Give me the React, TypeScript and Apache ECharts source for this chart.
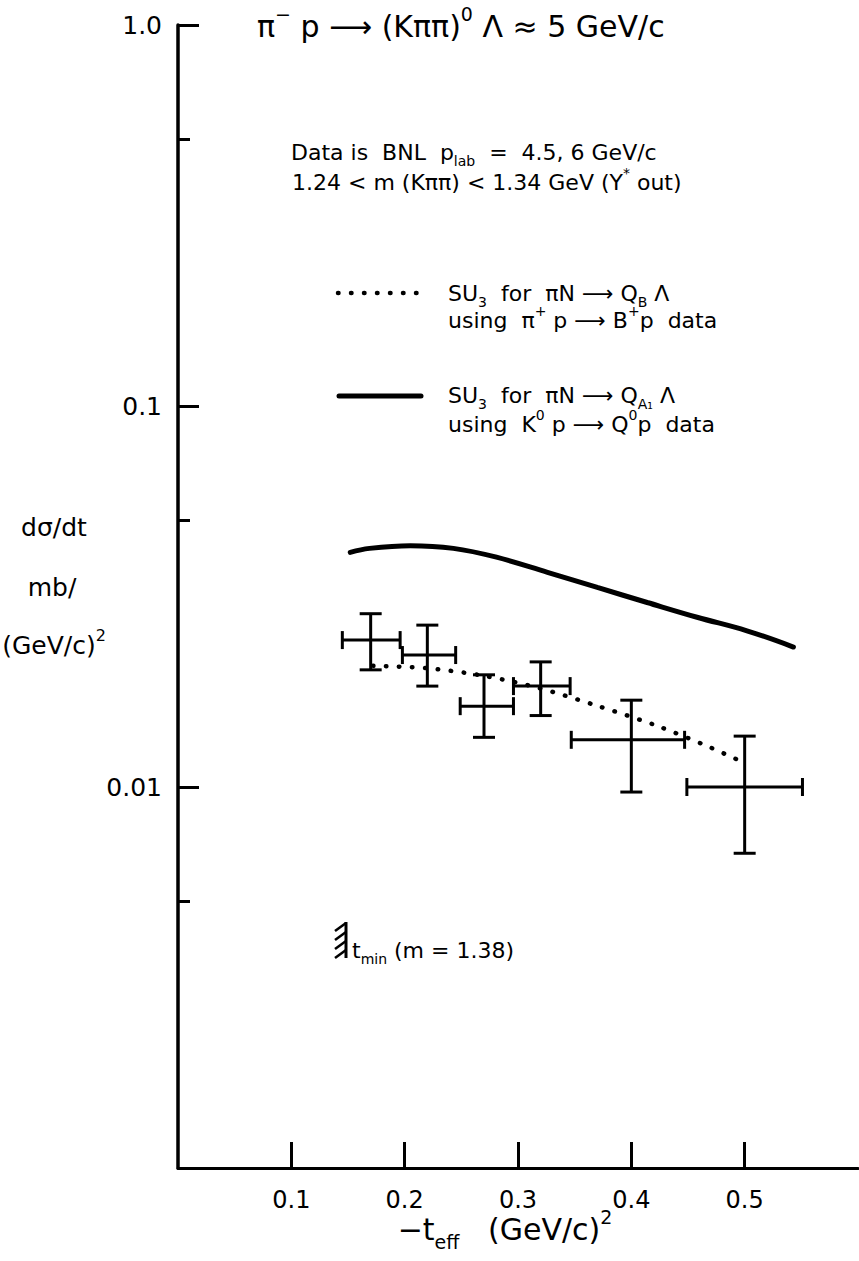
import React, { useEffect, useRef } from 'react';
import * as echarts from 'echarts';

// Axis ticks
const yTickMajor = [1, 0.1, 0.01];
const yTickMinor = [0.5, 0.05, 0.005];
const xTicks = [0.1, 0.2, 0.3, 0.4, 0.5];

// Measured data points (BNL) with x- and y-error ranges
const dataX = [0.17, 0.22, 0.27, 0.32, 0.40, 0.50];
const dataXLow = [0.145, 0.198, 0.249, 0.296, 0.347, 0.449];
const dataXHigh = [0.196, 0.245, 0.296, 0.346, 0.447, 0.551];
const dataY = [0.0243, 0.0222, 0.0163, 0.0184, 0.0133, 0.0100];
const dataYLow = [0.0203, 0.0184, 0.0135, 0.0154, 0.0097, 0.0067];
const dataYHigh = [0.0285, 0.0266, 0.0197, 0.0213, 0.0169, 0.0136];

// SU3 prediction for Q_A1 (solid)
const solidX = [0.152, 0.169, 0.205, 0.243, 0.281, 0.326, 0.370, 0.414, 0.458, 0.502, 0.543];
const solidY = [0.0413, 0.0423, 0.0430, 0.0423, 0.0401, 0.0366, 0.0334, 0.0305, 0.0279, 0.0257, 0.0233];

// SU3 prediction for Q_B (dotted)
const dottedX = [0.172, 0.220, 0.269, 0.318, 0.371, 0.422, 0.467, 0.499];
const dottedY = [0.0208, 0.0205, 0.0196, 0.0182, 0.0163, 0.0145, 0.0128, 0.0116];

const FONT = 'DejaVu Sans';

function rich(size: number) {
  const s = Math.round(size * 0.62);
  return {
    sub: { fontSize: s, fontFamily: FONT, lineHeight: s, verticalAlign: 'bottom', fill: '#000', color: '#000' },
    sup: { fontSize: s, fontFamily: FONT, lineHeight: s, verticalAlign: 'top', fill: '#000', color: '#000' },
  };
}

function txt(text: string, x: number, y: number, size: number, align = 'left') {
  return {
    type: 'text',
    x,
    y,
    style: {
      text,
      fontSize: size,
      fontFamily: FONT,
      fill: '#000',
      align,
      verticalAlign: 'middle',
      lineHeight: Math.round(size * 1.45),
      rich: rich(size),
    },
  };
}

export default function App() {
  const ref = useRef<HTMLDivElement>(null);
  useEffect(() => {
    document.body.style.margin = '0';
    const chart = echarts.init(ref.current!, null, { renderer: 'svg' });
    const errData = dataX.map((x, i) => [x, dataY[i], dataXLow[i], dataXHigh[i], dataYLow[i], dataYHigh[i]]);
    const lineStyleBlack = { stroke: '#000', lineWidth: 3, fill: 'none' };
    const hatch: any[] = [
      { type: 'line', shape: { x1: 346, y1: 922, x2: 346, y2: 958 }, style: { stroke: '#000', lineWidth: 3 } },
    ];
    for (let k = 0; k < 4; k++) {
      hatch.push({
        type: 'line',
        shape: { x1: 346, y1: 923 + k * 9, x2: 335, y2: 931 + k * 9 },
        style: { stroke: '#000', lineWidth: 2.5 },
      });
    }
    const yCommon = {
      type: 'log',
      logBase: 10,
      min: 0.001,
      max: 1,
      position: 'left',
      offset: 0,
      splitLine: { show: false },
    };
    chart.setOption({
      animation: false,
      backgroundColor: '#fff',
      grid: { left: 178, top: 25, width: 680, height: 1143, containLabel: false },
      xAxis: {
        type: 'value',
        min: 0,
        max: 0.6,
        axisLine: { show: true, lineStyle: { color: '#000', width: 3 } },
        axisTick: { show: true, inside: true, length: 26, customValues: xTicks, lineStyle: { color: '#000', width: 3 } },
        axisLabel: {
          customValues: xTicks,
          margin: 20,
          color: '#000',
          fontSize: 24,
          fontFamily: FONT,
          formatter: (v: number) => v.toFixed(1),
        },
        splitLine: { show: false },
      },
      yAxis: [
        {
          ...yCommon,
          axisLine: { show: true, lineStyle: { color: '#000', width: 3.5 } },
          axisTick: { show: true, inside: true, length: 21, customValues: yTickMajor, lineStyle: { color: '#000', width: 3 } },
          axisLabel: {
            customValues: yTickMajor,
            margin: 16,
            color: '#000',
            fontSize: 25,
            fontFamily: FONT,
            formatter: (v: number) => (v >= 1 ? '1.0' : String(Number(v.toPrecision(3)))),
          },
        },
        {
          ...yCommon,
          axisLine: { show: false },
          axisTick: { show: true, inside: true, length: 12, customValues: yTickMinor, lineStyle: { color: '#000', width: 3 } },
          axisLabel: { show: false },
        },
      ],
      series: [
        {
          type: 'line',
          data: solidX.map((x, i) => [x, solidY[i]]),
          smooth: 0.4,
          showSymbol: false,
          lineStyle: { color: '#000', width: 5, cap: 'round' },
          z: 3,
        },
        {
          type: 'line',
          data: dottedX.map((x, i) => [x, dottedY[i]]),
          smooth: 0.3,
          showSymbol: false,
          lineStyle: { color: '#000', width: 4.5, type: [0.5, 12.5], cap: 'round' },
          z: 3,
        },
        {
          type: 'custom',
          data: errData,
          encode: { x: [0, 2, 3], y: [1, 4, 5] },
          z: 4,
          renderItem: (params: any, api: any) => {
            const x = api.value(0);
            const y = api.value(1);
            const c = api.coord([x, y]);
            const l = api.coord([api.value(2), y]);
            const r = api.coord([api.value(3), y]);
            const b = api.coord([x, api.value(4)]);
            const t = api.coord([x, api.value(5)]);
            const cap = 9;
            const cw = 11;
            return {
              type: 'group',
              children: [
                { type: 'line', shape: { x1: l[0], y1: c[1], x2: r[0], y2: c[1] }, style: lineStyleBlack },
                { type: 'line', shape: { x1: c[0], y1: t[1], x2: c[0], y2: b[1] }, style: lineStyleBlack },
                { type: 'line', shape: { x1: l[0], y1: c[1] - cap, x2: l[0], y2: c[1] + cap }, style: lineStyleBlack },
                { type: 'line', shape: { x1: r[0], y1: c[1] - cap, x2: r[0], y2: c[1] + cap }, style: lineStyleBlack },
                { type: 'line', shape: { x1: c[0] - cw, y1: t[1], x2: c[0] + cw, y2: t[1] }, style: lineStyleBlack },
                { type: 'line', shape: { x1: c[0] - cw, y1: b[1], x2: c[0] + cw, y2: b[1] }, style: lineStyleBlack },
              ],
            };
          },
        },
      ],
      graphic: [
        txt('π{sup|−} p ⟶ (Kππ){sup|0} Λ ≈ 5 GeV/c', 257, 26, 30),
        txt('Data is  BNL  p{sub|lab}  =  4.5, 6 GeV/c', 291, 152, 22),
        txt('1.24 < m (Kππ) < 1.34 GeV (Y{sup|*} out)', 292, 182, 22),
        {
          type: 'line',
          shape: { x1: 338, y1: 293, x2: 421, y2: 293 },
          style: { stroke: '#000', lineWidth: 4.5, lineDash: [0.5, 12.5], lineCap: 'round' },
        },
        txt('SU{sub|3}  for  πN ⟶ Q{sub|B} Λ', 448, 293, 22),
        txt('using  π{sup|+} p ⟶ B{sup|+}p  data', 448, 320, 22),
        {
          type: 'line',
          shape: { x1: 339, y1: 396, x2: 421, y2: 396 },
          style: { stroke: '#000', lineWidth: 5, lineCap: 'round' },
        },
        txt('SU{sub|3}  for  πN ⟶ Q{sub|A₁} Λ', 448, 395, 22),
        txt('using  K{sup|0} p ⟶ Q{sup|0}p  data', 448, 424, 22),
        txt('dσ/dt', 54, 527, 25, 'center'),
        txt('mb/', 52, 587, 25, 'center'),
        txt('(GeV/c){sup|2}', 54, 645, 25, 'center'),
        txt('−t{sub|eff}   (GeV/c){sup|2}', 505, 1229, 30, 'center'),
        { type: 'group', children: hatch },
        txt('t{sub|min} (m = 1.38)', 352, 950, 22),
      ],
    });
    return () => chart.dispose();
  }, []);
  return <div ref={ref} style={{ width: 859, height: 1261 }} />;
}
